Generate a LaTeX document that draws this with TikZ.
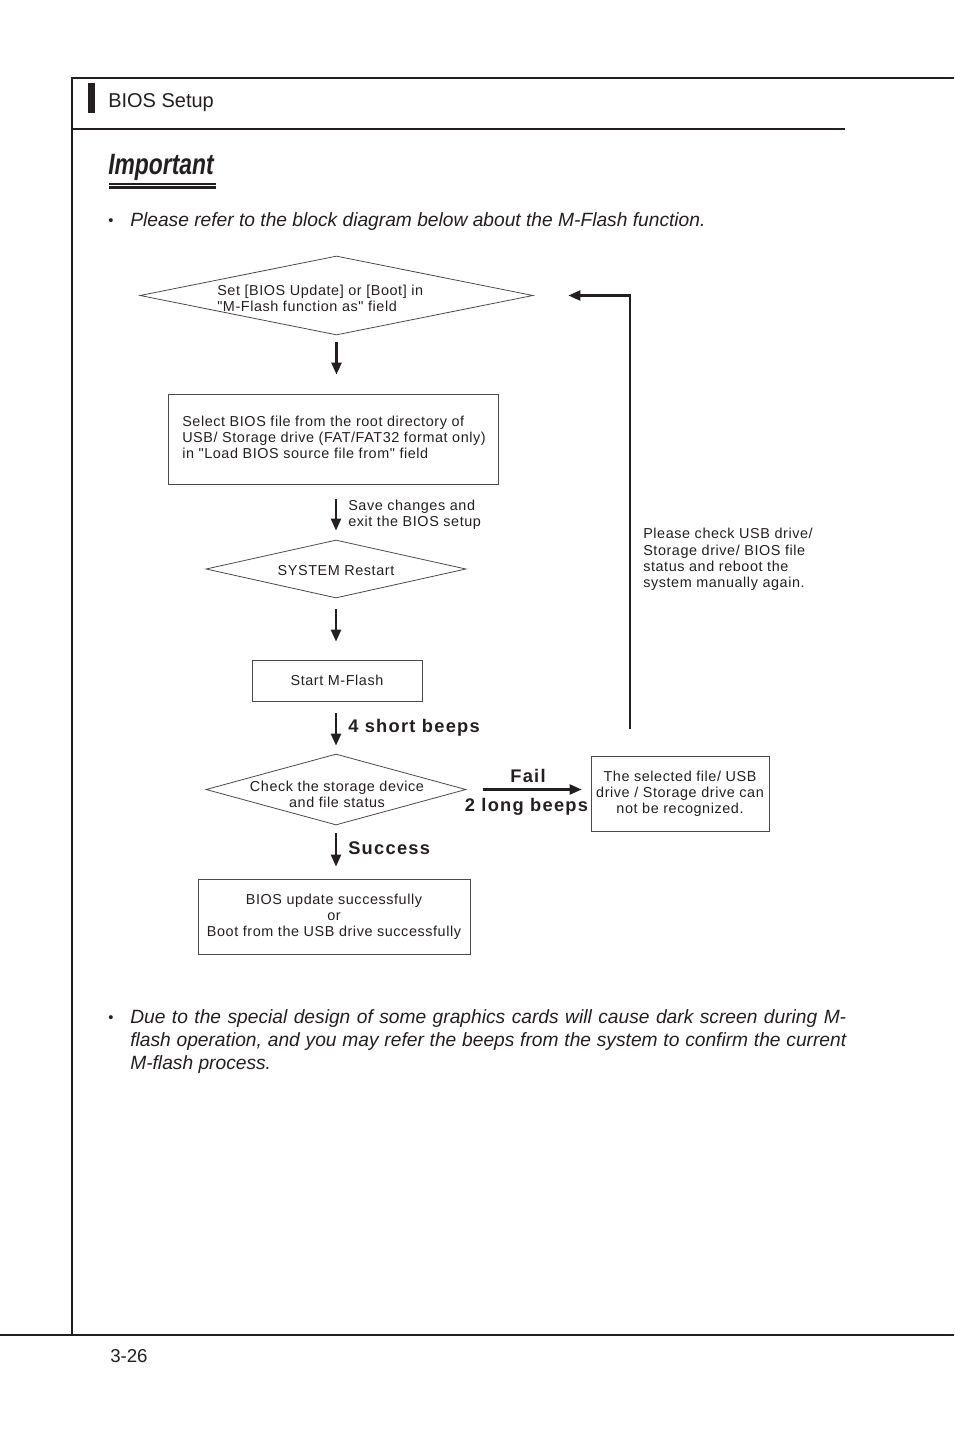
\documentclass[tikz,border=0pt]{standalone}
\usepackage{fontspec}
\setmainfont{Liberation Sans}
\newfontfamily\dg[LetterSpace=4]{Liberation Sans}
\newfontfamily\dgb[LetterSpace=7]{Liberation Sans}
\usetikzlibrary{shapes.geometric,arrows.meta}
\definecolor{ink}{HTML}{231F20}
\definecolor{edge}{HTML}{4A4A4A}
\begin{document}
\begin{tikzpicture}[x=0.75pt,y=-0.75pt,
  pageline/.style={draw=ink, line width=0.9pt},
  box/.style={draw=edge, line width=0.6pt, inner sep=0pt, align=center,
    font=\dg\fontsize{10.8pt}{12pt}\selectfont, text=ink},
  dia/.style={shape=diamond, draw=edge, line width=0.6pt, inner sep=0pt},
  dtxt/.style={font=\dg\fontsize{10.8pt}{12pt}\selectfont, text=ink, inner sep=0pt},
  blbl/.style={font=\dgb\bfseries\fontsize{13.7pt}{15pt}\selectfont, text=ink, inner sep=0pt},
  body/.style={font=\itshape\fontsize{14.4pt}{17pt}\selectfont, text=ink, inner sep=0pt, anchor=west},
  arr/.style={-{Triangle[length=9pt,width=7.5pt]}, line width=1.8pt, draw=ink}
]
\useasboundingbox (0,0) rectangle (954,1432);
% page frame
\coordinate (tl) at (72,78);
\coordinate (tr) at (954,78);
\coordinate (bl) at (72,1335);
\draw[pageline] (tr) -- (tl) -- (bl);
\draw[pageline] (72,129) -- (845,129);
\draw[pageline] (0,1335) -- (954,1335);
% header
\fill[ink] (88,83) rectangle (95,113);
\node[anchor=west, inner sep=0pt, text=ink, font=\fontsize{15pt}{17pt}\selectfont] (hdr) at (108,103) {BIOS Setup};
% important logo
\node[anchor=west, inner sep=0pt, text=ink] (imp) at (108,167)
  {\scalebox{0.78}[1]{\fontsize{22pt}{24pt}\selectfont\bfseries\itshape Important}};
\fill[ink] (109,182.5) rectangle (216,185);
\fill[ink] (109,186) rectangle (216,189);
% bullet 1
\node[body] (b1dot) at (108,222) {\upshape\fontsize{11pt}{12pt}\selectfont •};
\node[body] (t1) at (130,222) {Please refer to the block diagram below about the M-Flash function.};
% flowchart
\node[dia, minimum width=294.75pt, minimum height=59.25pt] (d1) at (336.5,295.5) {};
\node[dtxt, anchor=west, align=left] (d1t) at (217,298) {Set [BIOS Update] or [Boot] in\\"M-Flash function as" field};
\node[box, minimum width=247.5pt, minimum height=67.5pt] (bx1) at (333,439) {};
\node[dtxt, anchor=west, align=left] (bx1t) at (182,437.5) {Select BIOS file from the root directory of\\USB/ Storage drive (FAT/FAT32 format only)\\in "Load BIOS source file from" field};
\node[dia, minimum width=195pt, minimum height=43.5pt] (d2) at (336,569) {};
\node[dtxt] (d2t) at (336,570.5) {SYSTEM Restart};
\node[box, minimum width=127.5pt, minimum height=30.75pt] (bx2) at (337,680.5) {Start M-Flash};
\node[dia, minimum width=195pt, minimum height=53.25pt] (d3) at (336,789.5) {};
\node[dtxt, align=center] (d3t) at (337,794.5) {Check the storage device\\and file status};
\node[box, minimum width=133.5pt, minimum height=56.25pt] (bx3) at (680,793.5) {The selected file/ USB\\drive / Storage drive can\\not be recognized.};
\node[box, minimum width=204pt, minimum height=56.25pt] (bx4) at (334,916.5) {BIOS update successfully\\or\\Boot from the USB drive successfully};
% arrows
\draw[arr, shorten <=5.25pt, shorten >=14.25pt] (d1.south) -- (d1.south |- bx1.north);
\draw[arr, shorten <=11.25pt, shorten >=6.75pt] (d2.north |- bx1.south) -- (d2.north);
\draw[arr, shorten <=8.25pt, shorten >=13.5pt] (d2.south) -- (d2.south |- bx2.north);
\draw[arr, shorten <=9pt, shorten >=6pt] (d3.north |- bx2.south) -- (d3.north);
\draw[arr, shorten <=6pt, shorten >=9pt] (d3.south) -- (d3.south |- bx4.north);
\draw[arr, shorten <=12.75pt, shorten >=6.75pt] (d3.east) -- (d3.east -| bx3.west);
\coordinate (fb) at (630,729);
\draw[arr, shorten >=26.25pt] (fb) |- (d1.east);
% arrow labels
\node[dtxt, anchor=west, align=left] (l1) at (348,515) {Save changes and\\exit the BIOS setup};
\node[blbl, anchor=west] (l2) at (348,727.5) {4 short beeps};
\node[blbl] (l3) at (528,776) {Fail};
\node[blbl] (l4) at (526.5,806.5) {2 long beeps};
\node[blbl, anchor=west] (l5) at (348,848.5) {Success};
\node[dtxt, anchor=west, align=left, font=\dg\fontsize{10.8pt}{12.2pt}\selectfont] (fbt) at (643,559.5) {Please check USB drive/\\Storage drive/ BIOS file\\status and reboot the\\system manually again.};
% bullet 2
\node[body] (b2dot) at (108,1019) {\upshape\fontsize{11pt}{12pt}\selectfont •};
\node[body] (t2a) at (130,1019) {\makebox[537pt][s]{Due to the special design of some graphics cards will cause dark screen during M-}};
\node[body] (t2b) at (130,1042) {\makebox[537pt][s]{flash operation, and you may refer the beeps from the system to confirm the current}};
\node[body] (t2c) at (130,1065) {M-flash process.};
% page number
\node[anchor=west, inner sep=0pt, text=ink, font=\fontsize{14pt}{16pt}\selectfont] (pg) at (110,1356) {3-26};
\end{tikzpicture}
\end{document}
